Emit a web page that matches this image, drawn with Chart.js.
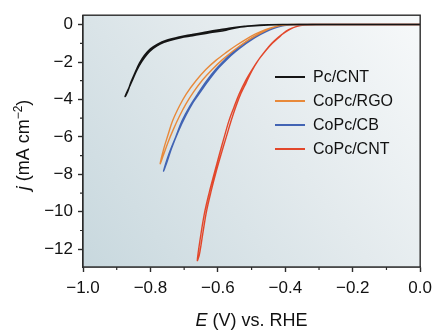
<!DOCTYPE html>
<html>
<head>
<meta charset="utf-8">
<script src="https://cdn.jsdelivr.net/npm/chart.js@4"></script>
<style>
  html, body { margin: 0; padding: 0; background: #fff; }
  #wrap { width: 438px; height: 330px; }
</style>
</head>
<body>
<div id="wrap"><canvas id="lsvChart" width="438" height="330"></canvas></div>
<script>
// tick labels
var xTicks = [-1.0, -0.8, -0.6, -0.4, -0.2, 0.0];
var xMinorTicks = [-0.9, -0.7, -0.5, -0.3, -0.1];
var yTicks = [0, -2, -4, -6, -8, -10, -12];
var yMinorTicks = [-1, -3, -5, -7, -9, -11];

var seriesNames = ['Pc/CNT', 'CoPc/RGO', 'CoPc/CB', 'CoPc/CNT'];

// each curve: scan down to the vertex, then back up (E in V, j in mA cm-2)
var pcCntE = [0, -0.2, -0.4, -0.45, -0.5, -0.54, -0.576, -0.625, -0.675, -0.71, -0.743, -0.77, -0.792, -0.81, -0.826, -0.84, -0.851, -0.863, -0.875,
              -0.868, -0.857, -0.845, -0.832, -0.818, -0.8, -0.78, -0.752, -0.715, -0.68, -0.63, -0.58, -0.54, -0.5, -0.45, -0.4, -0.2, 0];
var pcCntJ = [0, 0, 0, -0.02, -0.07, -0.15, -0.3, -0.44, -0.6, -0.7, -0.85, -1.02, -1.27, -1.58, -1.98, -2.42, -2.86, -3.35, -3.84,
              -3.6, -3.05, -2.55, -2.05, -1.65, -1.3, -1.06, -0.84, -0.66, -0.54, -0.38, -0.24, -0.13, -0.06, -0.01, 0, 0, 0];

var rgoE = [0, -0.2, -0.38, -0.41, -0.43, -0.459, -0.488, -0.518, -0.546, -0.576, -0.605, -0.635, -0.665, -0.694, -0.714, -0.734, -0.748, -0.76, -0.771,
            -0.762, -0.748, -0.732, -0.714, -0.695, -0.672, -0.645, -0.617, -0.588, -0.558, -0.528, -0.498, -0.468, -0.44, -0.415, -0.39, -0.2, 0];
var rgoJ = [0, 0, 0, -0.04, -0.11, -0.27, -0.5, -0.8, -1.12, -1.5, -1.9, -2.39, -3.0, -3.71, -4.35, -5.13, -5.9, -6.6, -7.43,
            -7.0, -6.3, -5.6, -4.9, -4.25, -3.6, -2.95, -2.4, -1.9, -1.45, -1.05, -0.7, -0.4, -0.18, -0.06, -0.01, 0, 0];

var cbE = [0, -0.2, -0.36, -0.39, -0.415, -0.439, -0.468, -0.498, -0.528, -0.557, -0.58, -0.606, -0.633, -0.66, -0.683, -0.706, -0.725, -0.745, -0.761,
           -0.752, -0.737, -0.717, -0.696, -0.673, -0.65, -0.624, -0.597, -0.571, -0.548, -0.519, -0.489, -0.46, -0.432, -0.408, -0.383, -0.2, 0];
var cbJ = [0, 0, 0, -0.02, -0.08, -0.21, -0.42, -0.71, -1.08, -1.5, -1.9, -2.39, -3.0, -3.71, -4.35, -5.13, -6.0, -6.9, -7.82,
           -7.4, -6.6, -5.7, -4.9, -4.15, -3.55, -2.9, -2.3, -1.82, -1.45, -1.05, -0.68, -0.4, -0.19, -0.07, -0.01, 0, 0];

var cntE = [0, -0.2, -0.32, -0.35, -0.37, -0.39, -0.405, -0.42, -0.44, -0.459, -0.478, -0.498, -0.518, -0.537, -0.552, -0.567, -0.581, -0.595, -0.61, -0.626, -0.64, -0.652, -0.661,
            -0.655, -0.645, -0.634, -0.62, -0.605, -0.59, -0.575, -0.56, -0.546, -0.532, -0.516, -0.5, -0.48, -0.46, -0.44, -0.42, -0.4, -0.385, -0.365, -0.345, -0.31, -0.2, 0];
var cntJ = [0, 0, 0, -0.04, -0.12, -0.27, -0.45, -0.71, -1.02, -1.42, -1.85, -2.39, -3.0, -3.71, -4.4, -5.13, -6.0, -6.9, -7.9, -9.0, -10.1, -11.4, -12.6,
            -12.3, -11.2, -10.0, -8.9, -7.85, -6.9, -6.0, -5.1, -4.35, -3.7, -3.1, -2.5, -1.9, -1.42, -1.0, -0.66, -0.4, -0.24, -0.1, -0.03, 0, 0, 0];

var lineColors = ['#151515', '#e8893a', '#4264b4', '#e2472b'];

var FONT = '"Liberation Sans", Arial, Helvetica, sans-serif';

function pts(xs, ys) {
    return xs.map(function(x, i) { return {x: x, y: ys[i]}; });
}
function minus(s) { return s.replace('-', '\u2212'); }

// gradient fill behind the plot + frame + minor ticks
var plotDeco = {
    id: 'plotDeco',
    beforeDatasetsDraw: function(chart) {
        var a = chart.chartArea, ctx = chart.ctx;
        ctx.save();
        var g = ctx.createLinearGradient(a.left, a.bottom, a.right, a.top);
        g.addColorStop(0, '#c8d8de');
        g.addColorStop(0.55, '#e3eaed');
        g.addColorStop(1, '#f7f9fa');
        ctx.fillStyle = g;
        ctx.fillRect(a.left, a.top, a.right - a.left, a.bottom - a.top);
        ctx.restore();
    },
    afterDraw: function(chart) {
        var a = chart.chartArea, ctx = chart.ctx;
        var xs = chart.scales.x, ys = chart.scales.y;
        ctx.save();
        ctx.strokeStyle = '#2b2b2b';
        ctx.lineWidth = 1.4;
        ctx.strokeRect(a.left, a.top, a.right - a.left, a.bottom - a.top);
        ctx.lineWidth = 1.2;
        ctx.beginPath();
        xMinorTicks.forEach(function(v) {
            var px = xs.getPixelForValue(v);
            ctx.moveTo(px, a.bottom);
            ctx.lineTo(px, a.bottom + 3);
        });
        yMinorTicks.forEach(function(v) {
            var py = ys.getPixelForValue(v);
            ctx.moveTo(a.left, py);
            ctx.lineTo(a.left - 3, py);
        });
        ctx.stroke();

        // legend inside the plot
        ctx.font = '16px ' + FONT;
        ctx.textBaseline = 'middle';
        ctx.fillStyle = '#111';
        chart.data.datasets.forEach(function(ds, i) {
            var y = 77 + i * 24;
            ctx.strokeStyle = ds.borderColor;
            ctx.lineWidth = 2;
            ctx.beginPath();
            ctx.moveTo(275, y);
            ctx.lineTo(305, y);
            ctx.stroke();
            ctx.fillText(ds.label, 313, y + 1);
        });

        // x axis title
        ctx.textBaseline = 'alphabetic';
        ctx.font = 'italic 18px ' + FONT;
        var e = 'E';
        var rest = ' (V) vs. RHE';
        var w1 = ctx.measureText(e).width;
        ctx.font = '18px ' + FONT;
        var w2 = ctx.measureText(rest).width;
        var cx = (a.left + a.right) / 2;
        var x0 = cx - (w1 + w2) / 2;
        ctx.font = 'italic 18px ' + FONT;
        ctx.fillText(e, x0, 326);
        ctx.font = '18px ' + FONT;
        ctx.fillText(rest, x0 + w1, 326);

        // y axis title
        ctx.translate(29, 145);
        ctx.rotate(-Math.PI / 2);
        var parts = [
            {t: 'j', f: 'italic 18px ' + FONT, dy: 0},
            {t: ' (mA cm', f: '18px ' + FONT, dy: 0},
            {t: '\u22122', f: '12px ' + FONT, dy: -7},
            {t: ')', f: '18px ' + FONT, dy: 0}
        ];
        var total = 0;
        parts.forEach(function(p) { ctx.font = p.f; p.w = ctx.measureText(p.t).width; total += p.w; });
        var xx = -total / 2;
        parts.forEach(function(p) {
            ctx.font = p.f;
            ctx.fillText(p.t, xx, p.dy);
            xx += p.w;
        });
        ctx.restore();
    }
};

var ctx = document.getElementById('lsvChart').getContext('2d');
var lsvChart = new Chart(ctx, {
    type: 'line',
    data: {
        datasets: [
            {label: seriesNames[0], data: pts(pcCntE, pcCntJ), borderColor: lineColors[0], borderWidth: 1.6},
            {label: seriesNames[1], data: pts(rgoE, rgoJ), borderColor: lineColors[1]},
            {label: seriesNames[2], data: pts(cbE, cbJ), borderColor: lineColors[2]},
            {label: seriesNames[3], data: pts(cntE, cntJ), borderColor: lineColors[3]}
        ]
    },
    options: {
        responsive: false,
        animation: false,
        devicePixelRatio: 1,
        datasets: {
            line: {
                borderWidth: 1.4,
                pointRadius: 0,
                tension: 0.35,
                fill: false
            }
        },
        layout: {
            padding: {left: 0, right: 15, top: 14, bottom: 0}
        },
        plugins: {
            legend: {display: false},
            tooltip: {enabled: false}
        },
        scales: {
            x: {
                type: 'linear',
                min: -1.0,
                max: 0.0,
                afterBuildTicks: function(scale) {
                    scale.ticks = xTicks.map(function(v) { return {value: v}; });
                },
                afterFit: function(scale) { scale.height = 63; },
                grid: {
                    drawOnChartArea: false,
                    drawTicks: true,
                    tickLength: 5,
                    tickWidth: 1.4,
                    tickColor: '#2b2b2b'
                },
                border: {display: true, color: '#2b2b2b', width: 1.4},
                ticks: {
                    color: '#111',
                    padding: 6,
                    maxRotation: 0,
                    font: {family: FONT, size: 17},
                    callback: function(v) { return minus(Number(v).toFixed(1)); }
                }
            },
            y: {
                type: 'linear',
                min: -12.95,
                max: 0.5,
                afterBuildTicks: function(scale) {
                    scale.ticks = yTicks.map(function(v) { return {value: v}; });
                },
                afterFit: function(scale) { scale.width = 83; },
                grid: {
                    drawOnChartArea: false,
                    drawTicks: true,
                    tickLength: 5,
                    tickWidth: 1.4,
                    tickColor: '#2b2b2b'
                },
                border: {display: true, color: '#2b2b2b', width: 1.4},
                ticks: {
                    color: '#111',
                    padding: 5,
                    font: {family: FONT, size: 17},
                    callback: function(v) { return minus(String(v)); }
                }
            }
        }
    },
    plugins: [plotDeco]
});
</script>
</body>
</html>
